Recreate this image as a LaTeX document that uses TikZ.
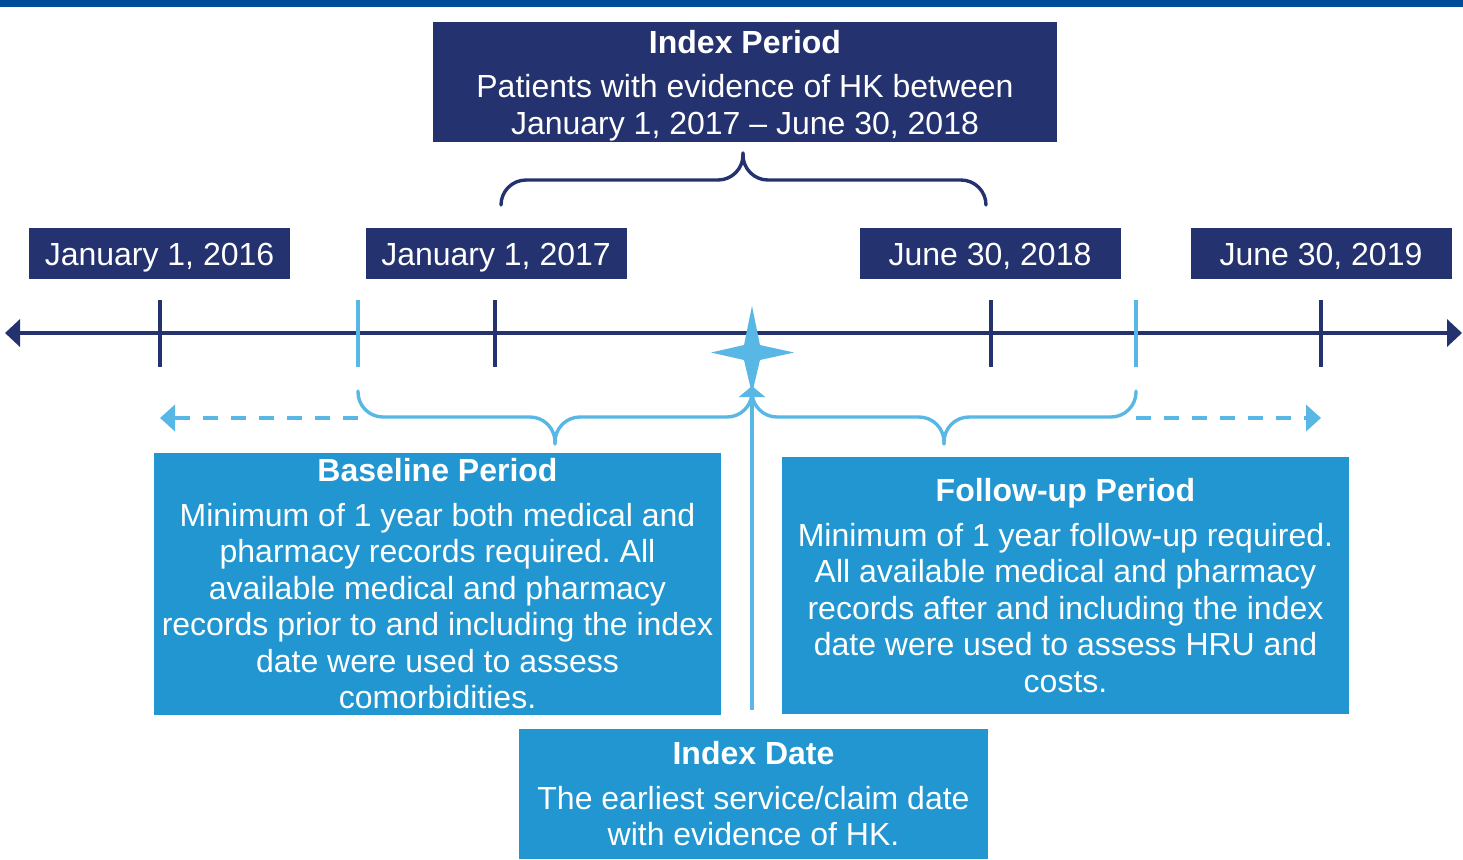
\documentclass[tikz,border=0pt]{standalone}
\usepackage{fontspec}
\setmainfont{Liberation Sans}
\frenchspacing
\usetikzlibrary{arrows.meta,positioning}
\definecolor{navy}{RGB}{36,50,111}
\definecolor{boxblue}{RGB}{33,150,208}
\definecolor{lineblue}{RGB}{88,183,229}
\definecolor{topband}{RGB}{0,76,152}
\begin{document}
\begin{tikzpicture}[x=0.5pt, y=-0.5pt, font=\fontsize{16}{18.25}\selectfont]
  \tikzstyle{datebox} = [fill=navy, text=white, minimum width=130.5pt, minimum height=25.5pt, inner sep=0pt, text height=11.5pt, text depth=0pt]
  \tikzstyle{navybox} = [fill=navy, text=white, align=center, inner sep=0pt]
  \tikzstyle{bluebox} = [fill=boxblue, text=white, align=center, inner sep=0pt]
  \tikzstyle{axisline} = [navy, line width=2.3pt, {Triangle[length=7.5pt,width=13.5pt]}-{Triangle[length=7.5pt,width=13.5pt]}]
  \tikzstyle{tickmark} = [line width=2pt]
  \tikzstyle{curly} = [line width=1.7pt, rounded corners=12.5pt, line cap=round]
  \tikzstyle{extend} = [lineblue, line width=2.3pt, dash pattern=on 7.5pt off 6.5pt, -{Triangle[length=7.5pt,width=13pt]}]
  \useasboundingbox (0,0) rectangle (1463,859);
  \fill[topband] (0,0) rectangle (1463,7);

  % periods and dates
  \node[navybox, minimum width=312pt, minimum height=60pt, text depth=0pt] (iperiod) at (745,82)
    {\textbf{Index Period}\\[4pt] Patients with evidence of HK between\\ January 1, 2017 -- June 30, 2018};
  \node[datebox] (d16) at (159.5,253.5) {January 1, 2016};
  \node[datebox] (d17) at (496,253.5) {January 1, 2017};
  \node[datebox] (d18) at (990,253.5) {June 30, 2018};
  \node[datebox] (d19) at (1321,253.5) {June 30, 2019};
  \node[bluebox, minimum width=283.5pt, minimum height=131pt] (baseline) at (437.5,584)
    {\textbf{Baseline Period}\\[4pt] Minimum of 1 year both medical and\\ pharmacy records required. All\\
     available medical and pharmacy\\ records prior to and including the index\\ date were used to assess\\ comorbidities.};
  \node[bluebox, minimum width=283.5pt, minimum height=128.5pt] (followup) at (1065.5,585.5)
    {\textbf{Follow-up Period}\\[4pt] Minimum of 1 year follow-up required.\\ All available medical and pharmacy\\
     records after and including the index\\ date were used to assess HRU and\\ costs.};
  \node[bluebox, minimum width=234.5pt, minimum height=65pt] (idate) at (753.5,794)
    {\textbf{Index Date}\\[4pt] The earliest service/claim date\\ with evidence of HK.};

  % timeline
  \coordinate (axl) at (5,333);
  \coordinate (axr) at (1462,333);
  \draw[axisline] (axl) -- (axr);
  \foreach \x in {160,495,991,1321}
    \draw[tickmark, navy] (\x,300) -- (\x,367);
  \foreach \x in {358,1136}
    \draw[tickmark, lineblue] (\x,300) -- (\x,367);

  % braces
  \draw[curly, navy] (501,205) |- (743,180) -- (743,153);
  \draw[curly, navy] (986,205) |- (743,180) -- (743,153);
  \draw[curly, lineblue] (358,391) |- (555,417) -- (555,444);
  \draw[curly, lineblue] (752,391) |- (555,417) -- (555,444);
  \draw[curly, lineblue] (752,391) |- (944,417) -- (944,444);
  \draw[curly, lineblue] (1136,391) |- (944,417) -- (944,444);

  \coordinate (blstart) at (358,418);
  \coordinate (blend) at (160,418);
  \coordinate (fustart) at (1136,418);
  \coordinate (fuend) at (1321,418);
  \draw[extend] (blstart) -- (blend);
  \draw[extend] (fustart) -- (fuend);

  % index date marker
  \coordinate (star) at (752,352.5);
  \coordinate (idfoot) at (752,710);
  \coordinate (idtip) at (752,386);
  \fill[lineblue] (752,306) -- (760,345) -- (794,352.5) -- (760,360) -- (752,394)
    -- (744,360) -- (711,352.5) -- (744,345) -- cycle;
  \draw[lineblue, line width=2pt, -{Triangle[length=5.5pt,width=13pt]}] (idfoot) -- (idtip);
\end{tikzpicture}
\end{document}
